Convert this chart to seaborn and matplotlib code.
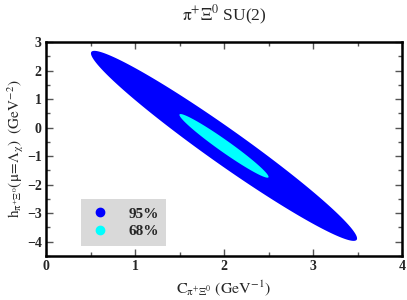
import numpy as np
import pandas as pd
import seaborn as sns
import matplotlib
matplotlib.use("Agg")
import matplotlib.pyplot as plt
from matplotlib.lines import Line2D

# --- data ---
center_C = 2.0          # GeV^-1
center_h = -0.64        # GeV^-2
halfext_C = 1.495       # half-extent of the 95% region in C
halfext_h = 3.33        # half-extent of the 95% region in h
rho = -0.974            # correlation
levels = ["95%", "68%"]
level_scale = [1.0, 0.335]
level_colors = ["#0000ff", "#00ffff"]
xticks = [0, 1, 2, 3, 4]
yticks = [-4, -3, -2, -1, 0, 1, 2, 3]

sns.set_style("ticks")
plt.rcParams["font.family"] = ["Liberation Serif", "DejaVu Serif"]
plt.rcParams["mathtext.fontset"] = "stix"

fig = plt.figure(figsize=(4.07, 3.0), dpi=100)
ax = fig.add_axes([46/407, 44/300, 356/407, 214/300])

cov = np.array([[halfext_C**2, rho*halfext_C*halfext_h],
                [rho*halfext_C*halfext_h, halfext_h**2]])
L = np.linalg.cholesky(cov)
t = np.linspace(0, 2*np.pi, 400)
circ = np.vstack([np.cos(t), np.sin(t)])
for lev, s, col in zip(levels, level_scale, level_colors):
    pts = L @ circ * s
    df = pd.DataFrame({"C": center_C + pts[0], "h": center_h + pts[1]})
    ax.fill(df["C"], df["h"], color=col, lw=0)

ax.set_xlim(0, 4)
ax.set_ylim(-4.5, 3)
ax.set_xticks(xticks)
ax.set_yticks(yticks)
ax.set_xticks(np.arange(0, 4.01, 0.5), minor=True)
ax.set_yticks(np.arange(-4.5, 3.01, 0.5), minor=True)
ax.tick_params(which="both", direction="in", top=True, right=True, width=1, color="#555555")
ax.tick_params(which="major", length=5, labelsize=10, pad=3)
ax.tick_params(which="minor", length=3)
for lab in ax.get_xticklabels() + ax.get_yticklabels():
    lab.set_fontweight("bold")
for sp in ax.spines.values():
    sp.set_linewidth(1.8)
    sp.set_color("black")

ax.set_title(r"$\mathrm{\pi}^{+}\Xi^{0}$ SU(2)", fontsize=12.5, pad=15)
ax.set_xlabel(r"$\mathrm{C}_{\mathrm{\pi}^{+}\Xi^{0}}\ (\mathrm{GeV}^{-1})$", fontsize=11.5, labelpad=4)
ax.set_ylabel(r"$\mathrm{h}_{\mathrm{\pi}^{+}\Xi^{0}}(\mathrm{\mu}\!=\!\Lambda_{\mathrm{\chi}})\ \ (\mathrm{GeV}^{-2})$",
              fontsize=11, labelpad=1)

handles = [Line2D([], [], marker="o", ls="none", color=c, markersize=6) for c in level_colors]
leg = ax.legend(handles, levels, loc="lower left", bbox_to_anchor=(0.098, 0.047),
                frameon=True, fancybox=False, framealpha=1, facecolor="#d9d9d9",
                edgecolor="none", prop={"weight": "bold", "size": 11},
                handletextpad=1.1, borderpad=0.5, labelspacing=0.25, handlelength=1.5,
                borderaxespad=0)

fig.savefig("out.png", dpi=100)
